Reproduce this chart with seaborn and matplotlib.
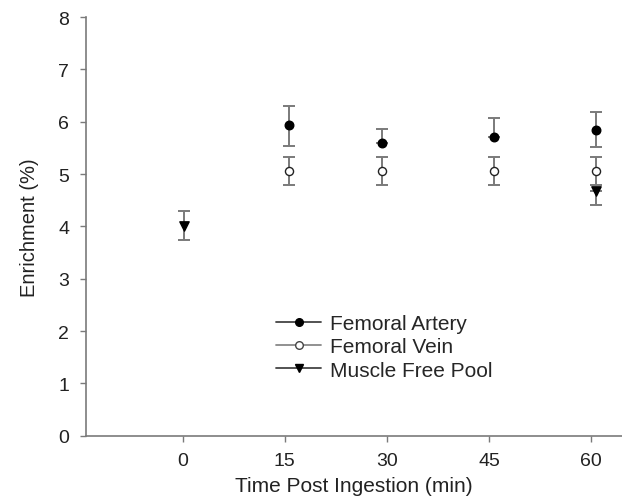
import matplotlib.pyplot as plt
import seaborn as sns
import pandas as pd
import numpy as np
from matplotlib.lines import Line2D

# values
artery_t = [15.6, 29.2, 45.7, 60.7]
artery_y = [5.94, 5.60, 5.71, 5.84]
artery_lo = [0.40, 0.0, 0.0, 0.32]
artery_hi = [0.37, 0.26, 0.37, 0.35]

vein_t = [15.6, 29.2, 45.7, 60.7]
vein_y = [5.06, 5.06, 5.06, 5.06]
vein_err = [0.27, 0.27, 0.27, 0.27]

muscle_t = [0.2, 60.7]
muscle_y = [4.01, 4.68]
muscle_lo = [0.27, 0.27]
muscle_hi = [0.29, 0.0]

xticks = [0, 15, 30, 45, 60]

sns.set_style("ticks")
plt.rcParams['font.family'] = ['Liberation Sans', 'DejaVu Sans']

df = pd.concat([
    pd.DataFrame({"t": artery_t, "y": artery_y, "series": "Femoral Artery"}),
    pd.DataFrame({"t": vein_t, "y": vein_y, "series": "Femoral Vein"}),
    pd.DataFrame({"t": muscle_t, "y": muscle_y, "series": "Muscle Free Pool"}),
])

fig = plt.figure(figsize=(6.22, 5.02), dpi=100)
ax = fig.add_axes([0.138, 0.13, 0.862, 0.834])

ecol = "#7a7a7a"
ekw = dict(fmt="none", ecolor=ecol, elinewidth=1.4, capsize=4.5, capthick=1.4, zorder=1)
ax.errorbar(artery_t, artery_y, yerr=[artery_lo, artery_hi], **ekw)
ax.errorbar(vein_t, vein_y, yerr=[vein_err, vein_err], **ekw)
ax.errorbar(muscle_t, muscle_y, yerr=[muscle_lo, muscle_hi], **ekw)

sub = df[df.series == "Femoral Artery"]
sns.scatterplot(data=sub, x="t", y="y", marker="o", s=38, color="black",
                edgecolor="black", linewidth=1, ax=ax, zorder=3, legend=False)
sub = df[df.series == "Femoral Vein"]
sns.scatterplot(data=sub, x="t", y="y", marker="o", s=34, color="white",
                edgecolor="#222222", linewidth=1, ax=ax, zorder=3, legend=False)
sub = df[df.series == "Muscle Free Pool"]
sns.scatterplot(data=sub, x="t", y="y", marker="v", s=45, color="black",
                edgecolor="black", linewidth=1, ax=ax, zorder=3, legend=False)

ax.set_xlim(-14.2, 64.5)
ax.set_ylim(0, 8)
ax.set_xticks(xticks)
ax.set_yticks(range(0, 9))
ax.set_xlabel("Time Post Ingestion (min)", fontsize=15, color="#222222", labelpad=5)
ax.set_ylabel("Enrichment (%)", fontsize=14.5, color="#222222", labelpad=14)
ax.tick_params(labelsize=14, colors=ecol, labelcolor="#222222", length=4, width=1)
ax.tick_params(axis="x", pad=8)
ax.tick_params(axis="y", pad=8)
sns.despine(ax=ax, top=True, right=True)
for s in ["left", "bottom"]:
    ax.spines[s].set_color(ecol)
    ax.spines[s].set_linewidth(1.2)

handles = [
    Line2D([], [], color="#444444", lw=1.3, marker="o", markersize=5.5,
           markerfacecolor="black", markeredgecolor="black"),
    Line2D([], [], color="#888888", lw=1.3, marker="o", markersize=5.5,
           markerfacecolor="white", markeredgecolor="#444444"),
    Line2D([], [], color="#444444", lw=1.3, marker="v", markersize=6,
           markerfacecolor="black", markeredgecolor="black"),
]
ax.legend(handles, ["Femoral Artery", "Femoral Vein", "Muscle Free Pool"],
          loc="upper left", bbox_to_anchor=(0.319, 0.335), frameon=False,
          fontsize=15, handlelength=2.2, handletextpad=0.4, labelspacing=0.2)

fig.savefig("out.png", dpi=100)
